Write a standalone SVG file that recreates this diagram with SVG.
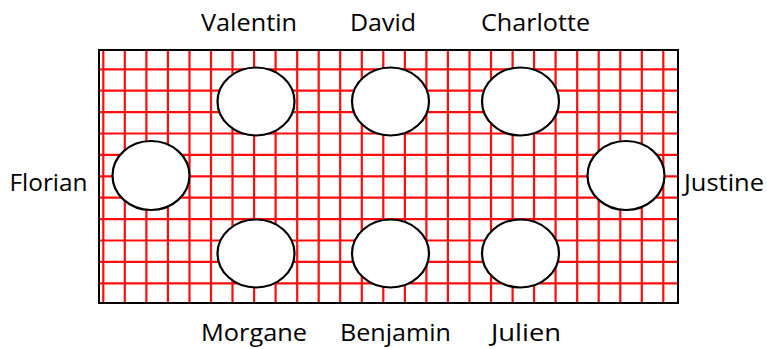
<svg xmlns="http://www.w3.org/2000/svg" width="767" height="349" viewBox="0 0 767 349">
<style>
.grid{stroke:#ff0000;stroke-width:2.2;fill:none;stroke-opacity:0.95}
.frame{fill:none;stroke:#000;stroke-width:2}
.seat{fill:#fff;stroke:#000;stroke-width:2.2}
.lbl{font-family:"Open Sans","Noto Sans",sans-serif;font-size:24px;fill:#000}
</style>
<rect width="767" height="349" fill="#fff"/>
<g id="grid">
<path class="grid" d="M103.3 50V303M124.8 50V303M146.4 50V303M167.9 50V303M189.5 50V303M211 50V303M232.5 50V303M254.1 50V303M275.6 50V303M297.2 50V303M318.7 50V303M340.2 50V303M361.8 50V303M383.3 50V303M404.9 50V303M426.4 50V303M447.9 50V303M469.5 50V303M491 50V303M512.6 50V303M534.1 50V303M555.6 50V303M577.2 50V303M598.7 50V303M620.3 50V303M641.8 50V303M663.3 50V303M99 69.3H678M99 90.7H678M99 112.1H678M99 133.5H678M99 154.9H678M99 176.3H678M99 197.7H678M99 219.1H678M99 240.5H678M99 261.9H678M99 283.3H678"/>
<rect class="frame" x="99" y="50" width="579" height="253"/>
</g>
<g id="Valentin"><ellipse class="seat" cx="256" cy="101.5" rx="38.5" ry="34"/><text class="lbl" x="249" y="31" text-anchor="middle" textLength="96" lengthAdjust="spacingAndGlyphs">Valentin</text></g>
<g id="David"><ellipse class="seat" cx="390.5" cy="101.5" rx="38.5" ry="34"/><text class="lbl" x="383" y="31" text-anchor="middle" textLength="66" lengthAdjust="spacingAndGlyphs">David</text></g>
<g id="Charlotte"><ellipse class="seat" cx="520.5" cy="101.5" rx="38.5" ry="34"/><text class="lbl" x="535.5" y="31" text-anchor="middle" textLength="109" lengthAdjust="spacingAndGlyphs">Charlotte</text></g>
<g id="Florian"><ellipse class="seat" cx="151" cy="175.5" rx="38.5" ry="34.5"/><text class="lbl" x="48.5" y="191" text-anchor="middle" textLength="78" lengthAdjust="spacingAndGlyphs">Florian</text></g>
<g id="Justine"><ellipse class="seat" cx="626" cy="175.5" rx="38.5" ry="34.5"/><text class="lbl" x="724" y="191" text-anchor="middle" textLength="80" lengthAdjust="spacingAndGlyphs">Justine</text></g>
<g id="Morgane"><ellipse class="seat" cx="256" cy="253.5" rx="38.5" ry="34"/><text class="lbl" x="254" y="341" text-anchor="middle" textLength="106" lengthAdjust="spacingAndGlyphs">Morgane</text></g>
<g id="Benjamin"><ellipse class="seat" cx="390.5" cy="253.5" rx="38.5" ry="34"/><text class="lbl" x="395.5" y="341" text-anchor="middle" textLength="111" lengthAdjust="spacingAndGlyphs">Benjamin</text></g>
<g id="Julien"><ellipse class="seat" cx="520.5" cy="253.5" rx="38.5" ry="34"/><text class="lbl" x="526" y="341" text-anchor="middle" textLength="70" lengthAdjust="spacingAndGlyphs">Julien</text></g>
<g id="connectors"/>
</svg>
